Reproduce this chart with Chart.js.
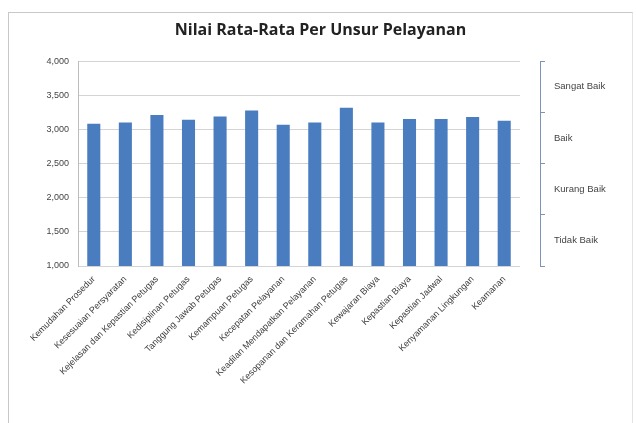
<!DOCTYPE html>
<html>
<head>
<meta charset="utf-8">
<script src="https://cdn.jsdelivr.net/npm/chart.js@4/dist/chart.umd.min.js"></script>
<style>
  body { margin: 0; background: #fff; }
  #frame {
    position: absolute; left: 8px; top: 12px; width: 623px; height: 420px;
    border-left: 1px solid #c8c8c8; border-top: 1px solid #c8c8c8; border-right: 1px solid #e4e4e4;
  }
  #wrap { position: absolute; left: 0; top: 0; width: 623px; height: 410px; }
</style>
</head>
<body>
<div id="frame"><div id="wrap"><canvas id="myChart"></canvas></div></div>
<script>
// unsur pelayanan
let unsur = [
  "Kemudahan Prosedur",
  "Kesesuaian Persyaratan",
  "Kejelasan dan Kepastian Petugas",
  "Kedisiplinan Petugas",
  "Tanggung Jawab Petugas",
  "Kemampuan Petugas",
  "Kecepatan Pelayanan",
  "Keadilan Mendapatkan Pelayanan",
  "Kesopanan dan Keramahan Petugas",
  "Kewajaran Biaya",
  "Kepastian Biaya",
  "Kepastian Jadwal",
  "Kenyamanan Lingkungan",
  "Keamanan",
];
let nilai = [3.084, 3.103, 3.211, 3.142, 3.191, 3.279, 3.069, 3.103, 3.319, 3.103, 3.152, 3.152, 3.181, 3.127];
let kategori = ["Sangat Baik", "Baik", "Kurang Baik", "Tidak Baik"];

var ctx = document.getElementById("myChart").getContext("2d");
var labelFont = { family: "Liberation Sans", size: 9 };

var myChart = new Chart(ctx, {
  type: "bar",
  data: {
    labels: unsur,
    datasets: [
      {
        label: "Nilai",
        data: nilai,
        backgroundColor: "#4a7cc0",
        borderWidth: 0,
        barPercentage: 0.45,
        categoryPercentage: 0.92,
      },
    ],
  },
  options: {
    responsive: true,
    maintainAspectRatio: false,
    animation: false,
    layout: { padding: { left: 0, right: 0, top: 0, bottom: 0 } },
    plugins: {
      legend: { display: false },
      tooltip: { enabled: false },
      title: {
        display: true,
        text: "Nilai Rata-Rata Per Unsur Pelayanan",
        color: "#222",
        font: { family: "Open Sans", size: 16, weight: "bold" },
        padding: { top: 8, bottom: 21 },
      },
    },
    scales: {
      x: {
        grid: { display: false },
        border: { display: false },
        ticks: {
          font: labelFont,
          color: "#3a3a3a",
          minRotation: 45,
          maxRotation: 45,
          autoSkip: false,
          padding: 0,
        },
        afterFit: (s) => { s.height = 157; },
      },
      y: {
        min: 1,
        max: 4,
        ticks: {
          stepSize: 0.5,
          font: labelFont,
          color: "#444",
          padding: 9,
          callback: (v) => v.toFixed(3).replace(".", ","),
        },
        grid: { color: "#d4d4d4", drawTicks: false },
        border: { display: true, color: "#bcbcbc" },
        afterFit: (s) => { s.width = 69; },
      },
      jarak: {
        position: "right",
        weight: 0,
        display: true,
        ticks: { display: false },
        grid: { display: false },
        border: { display: false },
        afterFit: (s) => { s.width = 20; },
      },
      kat: {
        type: "category",
        labels: kategori,
        position: "right",
        weight: 1,
        offset: true,
        ticks: { font: { family: "Liberation Sans", size: 9.5 }, color: "#444", crossAlign: "near", padding: 9 },
        grid: { offset: true, drawOnChartArea: false, tickLength: 5, color: "#7f93b8" },
        border: { display: true, color: "#7f93b8" },
        afterFit: (s) => { s.width = 92; },
      },
    },
  },
});
</script>
</body>
</html>
